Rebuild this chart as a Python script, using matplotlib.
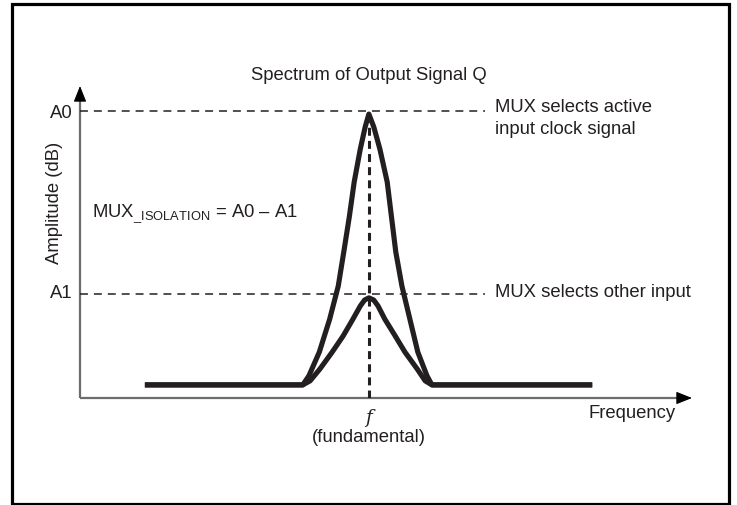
import numpy as np
import matplotlib
matplotlib.use('Agg')
import matplotlib.pyplot as plt
from matplotlib.patches import Rectangle

plt.rcParams['font.family'] = ['Liberation Sans', 'DejaVu Sans']
plt.rcParams['mathtext.fontset'] = 'custom'
plt.rcParams['mathtext.rm'] = 'Liberation Sans'
plt.rcParams['mathtext.it'] = 'Liberation Sans:italic'

# levels (arbitrary dB units) and fundamental position (arbitrary units)
a0 = 92.0
a1 = 33.3
f0 = 47.2

# spectrum, active input selected
freq_active = [10.6, 36.4, 37.4, 39.1, 40.8, 42.2, 43.1, 44.0, 44.8, 45.8,
               46.6, 47.2, 48.0, 49.0, 50.2, 50.9, 51.6, 52.6, 53.9, 55.2,
               56.7, 57.5, 83.7]
amp_active = [4.2, 4.2, 7.1, 14.7, 25.3, 35.9, 46.8, 58.0, 69.2, 79.8,
              86.9, 91.0, 86.9, 79.8, 69.2, 58.0, 46.8, 35.9, 25.3, 14.7,
              7.1, 4.2, 4.2]

# spectrum, other input selected
freq_other = [10.6, 36.4, 37.6, 39.2, 41.2, 43.0, 44.6, 45.8, 46.5, 47.2,
              48.0, 48.7, 49.8, 51.5, 53.1, 55.1, 56.4, 57.5, 83.7]
amp_other = [4.2, 4.2, 5.5, 9.3, 14.7, 19.9, 25.3, 29.5, 31.4, 32.1,
             31.4, 29.5, 25.3, 19.9, 14.7, 9.3, 5.5, 4.2, 4.2]

W, H = 737, 506
fig = plt.figure(figsize=(W / 100, H / 100), dpi=100)

def fx(px):
    return px / W

def fy(py):
    return 1 - py / H

ax = fig.add_axes([fx(80), fy(399), fx(692) - fx(80), fy(87) - fy(399)])
ax.set_xlim(0, 100)
ax.set_ylim(0, 100)
ax.axis('off')

ink = '#231f20'
axis_col = '#6d6d6d'

# axes lines with black arrow heads
ax.plot([0, 0], [0, 97], color=axis_col, lw=1.6, solid_capstyle='butt',
        clip_on=False)
ax.plot([0, 98.5], [0, 0], color=axis_col, lw=1.6, solid_capstyle='butt',
        clip_on=False)
ax.annotate('', xy=(0, 100), xytext=(0, 96.5),
            arrowprops=dict(arrowstyle='-|>,head_length=0.7,head_width=0.28',
                            color='black', lw=0.8, mutation_scale=14,
                            shrinkA=0, shrinkB=0),
            annotation_clip=False)
ax.annotate('', xy=(100, 0), xytext=(98.2, 0),
            arrowprops=dict(arrowstyle='-|>,head_length=0.7,head_width=0.28',
                            color='black', lw=0.8, mutation_scale=14,
                            shrinkA=0, shrinkB=0),
            annotation_clip=False)

# dashed reference lines
ax.plot([0, 66.2], [a0, a0], color=ink, lw=1.1, linestyle=(0, (5.2, 3.9)))
ax.plot([0, 66.2], [a1, a1], color=ink, lw=1.1, linestyle=(0, (5.2, 3.9)))
ax.plot([f0, f0], [0, a0 - 2], color=ink, lw=2.2,
        linestyle=(0, (2.6, 1.7)), zorder=2)

# spectra
for fr, am in [(freq_active, amp_active), (freq_other, amp_other)]:
    ax.plot(fr, am, color=ink, lw=3.7, solid_joinstyle='round',
            solid_capstyle='butt', zorder=3)

fs = 13.3
ax.text(-1.2, a0 - 0.6, 'A0', ha='right', va='center', fontsize=fs, color=ink)
ax.text(-1.2, a1 + 0.5, 'A1', ha='right', va='center', fontsize=fs, color=ink)
ax.text(67.8, a0, 'MUX selects active', ha='left', va='baseline',
        fontsize=fs, color=ink)
ax.text(67.8, a0 - 7.1, 'input clock signal', ha='left', va='baseline',
        fontsize=fs, color=ink)
ax.text(67.8, a1 + 0.7, 'MUX selects other input', ha='left', va='center',
        fontsize=fs, color=ink)

fig.text(fx(369), fy(75), 'Spectrum of Output Signal Q', ha='center',
         va='center', fontsize=fs, color=ink)
fig.text(fx(55), fy(203), 'Amplitude (dB)', ha='center', va='center',
         rotation=90, fontsize=fs, color=ink)
fig.text(fx(92), fy(217), r'MUX$_{\mathrm{\_ISOLATION}}$ = A0 – A1',
         ha='left', va='baseline', fontsize=fs, color=ink)
fig.text(fx(369), fy(418), 'f', ha='center', va='center', fontsize=fs,
         color=ink, style='italic', family='DejaVu Serif')
fig.text(fx(369), fy(438), '(fundamental)', ha='center', va='center',
         fontsize=fs, color=ink)
fig.text(fx(632), fy(414), 'Frequency', ha='center', va='center',
         fontsize=fs, color=ink)

# frame around the figure
fig.patches.append(Rectangle((fx(11.5), fy(504.5)), fx(728.5) - fx(11.5),
                             fy(5) - fy(504.5), transform=fig.transFigure,
                             fill=False, lw=2.3, edgecolor='black'))

plt.savefig('out.png', dpi=100)
plt.close()
